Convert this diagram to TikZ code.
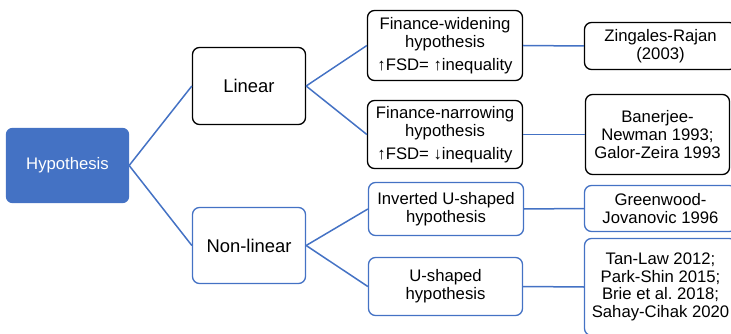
\documentclass[tikz,border=0pt]{standalone}
\usepackage{fontspec}
\setmainfont{Liberation Sans}
\definecolor{hblue}{HTML}{4472C4}
\begin{document}
\frenchspacing
\begin{tikzpicture}[x=1pt,y=-1pt,
  base/.style={line width=1.3pt, rounded corners=7pt, align=center, inner sep=0pt,
    font=\fontsize{16.7}{17.7}\selectfont, text=black},
  blk/.style={base, draw=black},
  blu/.style={base, draw=hblue},
  big/.style={font=\fontsize{18.4}{20}\selectfont},
  conn/.style={draw=hblue, line width=1.5pt}]
\useasboundingbox (0,0) rectangle (731,334);
\clip (0,0) rectangle (731,334);
% root
\node[base, draw=hblue, fill=hblue, text=white, rounded corners=6pt,
  minimum width=122pt, minimum height=74pt] (hyp) at (67.5,165.5) {Hypothesis};
% level 1
\node[blk, big, minimum width=113pt, minimum height=77pt] (lin) at (249,86) {Linear};
\node[blu, big, minimum width=113pt, minimum height=76pt] (non) at (249,245.5) {Non-linear};
% level 2
\node[blk, minimum width=155pt, minimum height=70pt] (fw) at (445,45.5)
  {Finance-widening\\hypothesis\\[5pt]↑FSD= ↑inequality};
\node[blk, minimum width=155pt, minimum height=68pt] (fn) at (445,134.5)
  {Finance-narrowing\\hypothesis\\[5pt]↑FSD= ↓inequality};
\node[blu, minimum width=155pt, minimum height=53pt] (iu) at (446,209)
  {Inverted U-shaped\\hypothesis};
\node[blu, minimum width=154pt, minimum height=58pt] (us) at (445.5,286.5)
  {U-shaped\\hypothesis};
% level 3
\node[blk, minimum width=152pt, minimum height=47pt] (zr) at (660.5,46)
  {Zingales-Rajan\\(2003)};
\node[blk, minimum width=144pt, minimum height=80pt] (bn) at (657.5,134.5)
  {Banerjee-\\Newman 1993;\\Galor-Zeira 1993};
\node[blu, minimum width=152pt, minimum height=46pt] (gj) at (660.5,208.5)
  {Greenwood-\\Jovanovic 1996};
\node[blu, minimum width=152pt, minimum height=97pt] (tl) at (660.5,287)
  {Tan-Law 2012;\\Park-Shin 2015;\\Brie et al. 2018;\\Sahay-Cihak 2020};
% connectors
\draw[conn] (hyp.east) -- (lin.west);
\draw[conn] (hyp.east) -- (non.west);
\draw[conn] (lin.east) -- (fw.west);
\draw[conn] (lin.east) -- (fn.west);
\draw[conn] (non.east) -- (iu.west);
\draw[conn] (non.east) -- (us.west);
\draw[conn] (fw.east) -- (zr.west);
\draw[conn] (fn.east) -- (bn.west);
\draw[conn] (iu.east) -- (gj.west);
\draw[conn] (us.east) -- (tl.west);
\end{tikzpicture}
\end{document}
